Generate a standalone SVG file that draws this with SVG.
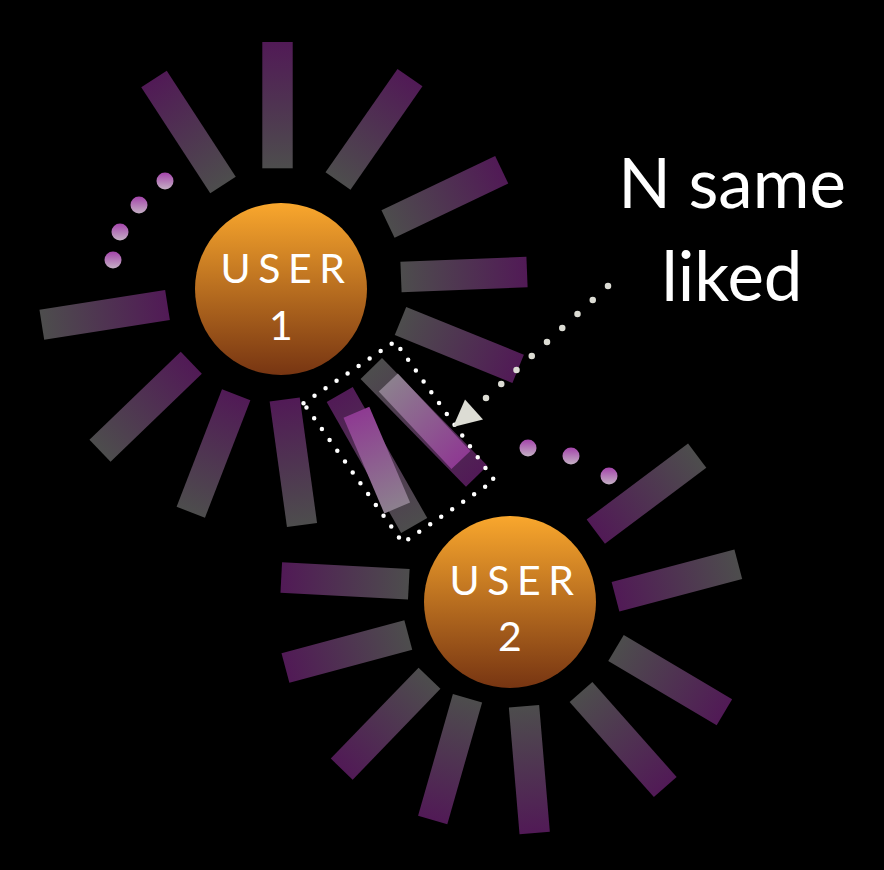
<svg xmlns="http://www.w3.org/2000/svg" width="884" height="870" viewBox="0 0 884 870">
<defs>
<linearGradient id="gOut" x1="0" y1="0" x2="1" y2="0"><stop offset="0" stop-color="#4d4d4d"/><stop offset="1" stop-color="#511a56"/></linearGradient>
<linearGradient id="gIn" x1="0" y1="0" x2="1" y2="0"><stop offset="0" stop-color="#511a56"/><stop offset="1" stop-color="#4d4d4d"/></linearGradient>
<linearGradient id="hOut" x1="0" y1="0" x2="1" y2="0"><stop offset="0" stop-color="#8c808e"/><stop offset="1" stop-color="#8e3a92"/></linearGradient>
<linearGradient id="hIn" x1="0" y1="0" x2="1" y2="0"><stop offset="0" stop-color="#8e3a92"/><stop offset="1" stop-color="#8c808e"/></linearGradient>
<linearGradient id="gCircle" x1="0" y1="0" x2="0" y2="1"><stop offset="0" stop-color="#f9a72d"/><stop offset="1" stop-color="#773512"/></linearGradient>
<linearGradient id="gDot" x1="0" y1="0" x2="0" y2="1"><stop offset="0" stop-color="#a444ab"/><stop offset="1" stop-color="#c4b0c4"/></linearGradient>
</defs>
<style>
.out{fill:url(#gOut)}
.in{fill:url(#gIn)}
.circle{fill:url(#gCircle)}
.dot{fill:url(#gDot)}
.utxt{font-family:Lato,"Open Sans","Noto Sans",sans-serif;font-size:41px;fill:#ffffff;text-anchor:middle}
.label{font-family:Lato,"Open Sans","Noto Sans",sans-serif;font-size:69px;fill:#ffffff;text-anchor:middle}
.box{fill:none;stroke:#ffffff;stroke-width:4.5;stroke-linecap:round;stroke-dasharray:0 13.3}
.conn{fill:none;stroke:#dcdcd4;stroke-width:6.5;stroke-linecap:round;stroke-dasharray:0 20.7}
</style>
<rect x="0" y="0" width="884" height="870" fill="#000000"/>

<g id="user1">
  <g id="user1-rays">
    <rect class="out" x="0" y="-15.2" width="126.3" height="30.4" transform="translate(277.5,168.3) rotate(-90)"/>
    <rect class="out" x="0" y="-15.2" width="126.5" height="30.4" transform="translate(223,185) rotate(-123.06)"/>
    <rect class="out" x="0" y="-15.2" width="126" height="30.4" transform="translate(338,181) rotate(-55.16)"/>
    <rect class="out" x="0" y="-15.2" width="126" height="30.4" transform="translate(388,224) rotate(-25.52)"/>
    <rect class="out" x="0" y="-15.2" width="126.1" height="30.4" transform="translate(401,277) rotate(-2.27)"/>
    <rect class="out" x="0" y="-15.2" width="127" height="30.4" transform="translate(400.5,321) rotate(22.13)"/>
    <rect class="out" x="0" y="-15" width="150.7" height="30" transform="translate(371.3,368.5) rotate(45.62)"/>
    <rect class="in" x="0" y="-15" width="150.7" height="30" transform="translate(339.7,394.5) rotate(60.37)"/>
    <rect class="in" x="0" y="-15.2" width="126.7" height="30.4" transform="translate(284.7,399.5) rotate(82.15)"/>
    <rect class="in" x="0" y="-15.2" width="126" height="30.4" transform="translate(236.2,394.7) rotate(111.13)"/>
    <rect class="in" x="0" y="-15.2" width="126.8" height="30.4" transform="translate(191.3,362.8) rotate(136.06)"/>
    <rect class="in" x="0" y="-15.2" width="127.2" height="30.4" transform="translate(167.5,305) rotate(171.09)"/>
    <rect fill="url(#hOut)" x="0" y="-13" width="106.2" height="26" transform="translate(388.3,382.5) rotate(46.87)"/>
    <rect fill="url(#hIn)" x="0" y="-14" width="104.1" height="28" transform="translate(356.4,412.2) rotate(66.93)"/>
  </g>
  <circle class="circle" cx="281" cy="289" r="86"/>
  <text class="utxt" x="286.5" y="283" letter-spacing="7.5">USER</text>
  <text class="utxt" x="281" y="340">1</text>
  <circle class="dot" cx="165" cy="181" r="8.5"/>
  <circle class="dot" cx="139" cy="205" r="8.5"/>
  <circle class="dot" cx="120" cy="232" r="8.5"/>
  <circle class="dot" cx="113" cy="260" r="8.5"/>
</g>

<g id="user2">
  <g id="user2-rays">
    <rect class="in" x="0" y="-15.2" width="126.8" height="30.4" transform="translate(595.8,531.7) rotate(-36.92)"/>
    <rect class="in" x="0" y="-15.2" width="127" height="30.4" transform="translate(615.5,596.7) rotate(-14.78)"/>
    <rect class="out" x="0" y="-15.2" width="126" height="30.4" transform="translate(616,648) rotate(30.65)"/>
    <rect class="out" x="0" y="-15.2" width="127" height="30.4" transform="translate(581,692) rotate(48.44)"/>
    <rect class="out" x="0" y="-15.2" width="127.2" height="30.4" transform="translate(524,706.2) rotate(85.18)"/>
    <rect class="out" x="0" y="-15.2" width="126.7" height="30.4" transform="translate(467.5,698.2) rotate(105.95)"/>
    <rect class="out" x="0" y="-15.2" width="126.4" height="30.4" transform="translate(429.5,678.2) rotate(133.98)"/>
    <rect class="out" x="0" y="-15.2" width="127.2" height="30.4" transform="translate(408.3,635) rotate(164.96)"/>
    <rect class="out" x="0" y="-15.2" width="127.7" height="30.4" transform="translate(408.8,584.2) rotate(183.01)"/>
  </g>
  <circle class="circle" cx="510" cy="602" r="86"/>
  <text class="utxt" x="515.5" y="595" letter-spacing="7.5">USER</text>
  <text class="utxt" x="510" y="651">2</text>
  <circle class="dot" cx="528" cy="448" r="8.5"/>
  <circle class="dot" cx="571" cy="456" r="8.5"/>
  <circle class="dot" cx="609" cy="476" r="8.5"/>
</g>

<g id="label">
  <text class="label" x="732" y="208">N same</text>
  <text class="label" x="732" y="301">liked</text>
</g>

<g id="connectors">
  <path class="box" d="M303.5,403.2 L395,341.4 L494.4,480.5 L402.9,543 Z"/>
  <path class="conn" d="M608,286 L474,409"/>
  <polygon points="453,427 465,399.5 483,419.5" fill="#dcdcd4"/>
</g>
</svg>
